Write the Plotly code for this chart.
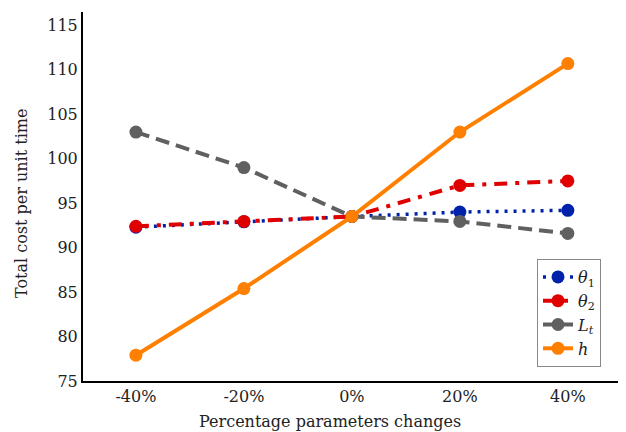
import plotly.graph_objects as go

categories = ["-40%", "-20%", "0%", "20%", "40%"]
theta1 = [92.3, 92.9, 93.5, 94.0, 94.2]
theta2 = [92.4, 92.95, 93.5, 97.0, 97.5]
Lt = [103.0, 99.0, 93.5, 92.95, 91.6]
h = [77.9, 85.4, 93.5, 103.0, 110.7]

names = ["<i>θ</i><sub>1</sub>", "<i>θ</i><sub>2</sub>", "<i>L</i><sub><i>t</i></sub>", "<i>h</i>"]
series = [theta1, theta2, Lt, h]
colors = ["#0022aa", "#e00000", "#606060", "#ff8000"]
dashes = ["3px,6px", "13px,8px,4px,8px", "14px,7px", "solid"]
widths = [3.5, 4, 4, 4]

FONT = "DejaVu Serif"
# page body has an 8px default margin; figure is sized to fill the rest
fig = go.Figure()
for n, s, c, d, w in zip(names, series, colors, dashes, widths):
    fig.add_trace(go.Scatter(
        x=list(range(len(categories))), y=s, name=n, mode="lines+markers",
        line=dict(color=c, dash=d, width=w),
        marker=dict(color=c, size=13),
    ))

PW, PH = 541, 369
fig.update_layout(
    width=618, height=424,
    margin=dict(l=75, r=2, t=4, b=51, autoexpand=False),
    plot_bgcolor="white", paper_bgcolor="white",
    font=dict(family=FONT, size=16, color="#222"),
    showlegend=True,
    legend=dict(x=(537 - 83) / PW, y=(381 - 367) / PH, xanchor="left", yanchor="bottom",
                bordercolor="#888", borderwidth=1, bgcolor="white",
                font=dict(size=16), itemwidth=30, tracegroupgap=0),
    annotations=[
        dict(text="Percentage parameters changes", xref="paper", yref="paper",
             x=(330 - 83) / PW, y=-(421 - 381) / PH, xanchor="center", yanchor="middle",
             showarrow=False, font=dict(size=16)),
        dict(text="Total cost per unit time", xref="paper", yref="paper",
             x=-(83 - 22) / PW, y=(381 - 204) / PH, xanchor="center", yanchor="middle",
             textangle=-90, showarrow=False, font=dict(size=16)),
    ],
)
fig.update_xaxes(
    tickmode="array", tickvals=list(range(len(categories))), ticktext=categories,
    range=[-0.49, 4.52], showline=True, linecolor="black", linewidth=2,
    showgrid=False, zeroline=False, ticks="", automargin=False,
)
fig.update_yaxes(
    range=[75, 116.5], tickvals=[75, 80, 85, 90, 95, 100, 105, 110, 115],
    showline=True, linecolor="black", linewidth=2, showgrid=False, zeroline=False,
    ticks="", automargin=False,
)
fig.write_html("out.html")
